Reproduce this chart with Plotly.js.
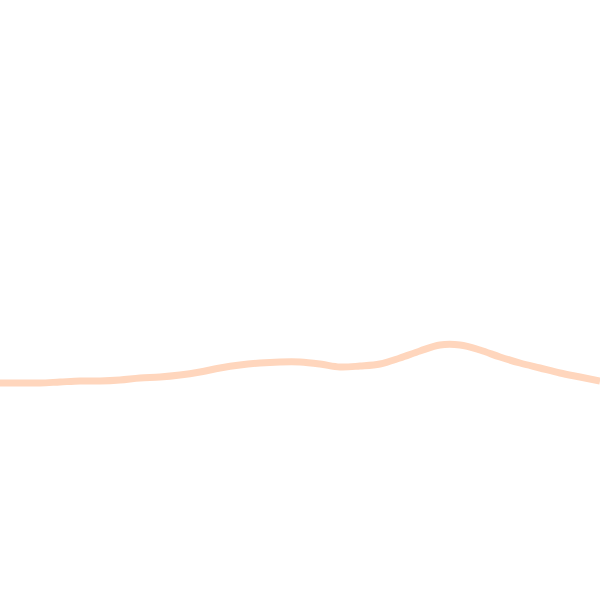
<!DOCTYPE html>
<html>
<head>
<meta charset="utf-8">
<script src="https://cdn.plot.ly/plotly-3.0.1.min.js"></script>
<style>html,body{margin:0;padding:0;background:#fff;}#chart{width:600px;height:600px;}</style>
</head>
<body>
<div id="chart"></div>
<script>
var xs = [0,20,40,60,80,100,120,140,160,180,200,220,240,260,280,300,320,340,360,380,400,420,440,460,480,500,520,540,560,580,600];
var ys = [217,217,217,218,219,219,220,222,223,225,228,232,235,237,238,238,236,233,234,236,242,249,255,255,250,243,237,232,227,223,219];

var trace = {
  x: xs, y: ys, type: 'scatter', mode: 'lines',
  line: {color: '#ffd6bd', width: 7, shape: 'spline'},
  hoverinfo: 'skip'
};
var layout = {
  width: 600, height: 600,
  margin: {l: 0, r: 0, t: 0, b: 0},
  paper_bgcolor: '#ffffff', plot_bgcolor: '#ffffff',
  showlegend: false,
  xaxis: {range: [0, 600], visible: false, fixedrange: true},
  yaxis: {range: [0, 600], visible: false, fixedrange: true}
};
Plotly.newPlot('chart', [trace], layout, {displayModeBar: false, staticPlot: true});
</script>
</body>
</html>
